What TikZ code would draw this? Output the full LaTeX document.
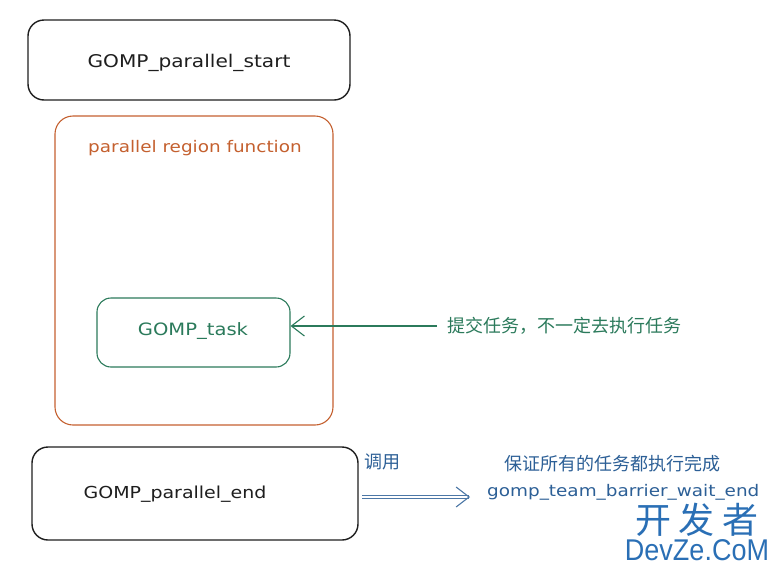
\documentclass[tikz,border=0pt]{standalone}
\usepackage{fontspec}
\setmainfont{DejaVu Sans}
\newfontfamily\hand[FakeStretch=1.15]{DejaVu Sans}
\newfontfamily\cjk{Noto Sans CJK SC}
\newfontfamily\wmfont[FakeStretch=0.9]{Liberation Sans}
\usetikzlibrary{arrows.meta}
\definecolor{ink}{HTML}{1E1E1E}
\definecolor{orng}{HTML}{C4602F}
\definecolor{grn}{HTML}{2B7A5B}
\definecolor{blu}{HTML}{2C5F96}
\definecolor{wm}{HTML}{2A6FB5}
\tikzset{
  x=1pt, y=-1pt,
  box/.style={draw=ink, line width=1.4pt, rounded corners=16pt},
  fbox/.style={draw=orng, line width=1.1pt, rounded corners=18pt},
  gbox/.style={draw=grn, line width=1.1pt, rounded corners=14pt},
  lbl/.style={inner sep=0pt},
  zh/.style={inner sep=0pt, font=\cjk\fontsize{18}{21}\selectfont},
  barb/.style={-{Straight Barb[length=13pt,width=20pt]}},
}
\begin{document}
\begin{tikzpicture}
\useasboundingbox (0,0) rectangle (780,571);
% boxes
\draw[box] (28,20) rectangle (350,100);
\node[lbl, text=ink, font=\hand\fontsize{17.5}{20}\selectfont] (start) at (189,63) {GOMP\_parallel\_start};
\draw[fbox] (55,116) rectangle (333,425);
\node[lbl, text=orng, font=\hand\fontsize{16}{19}\selectfont] (region) at (195,148) {parallel region function};
\node[gbox, minimum width=193pt, minimum height=69pt, inner sep=0pt] (task) at (193.5,332.5) {};
\node[lbl, text=grn, font=\hand\fontsize{17}{20}\selectfont] (tasklbl) at (193,331) {GOMP\_task};
\node[box, minimum width=326pt, minimum height=93pt, inner sep=0pt] (endbox) at (195,493.5) {};
\node[lbl, text=ink, font=\hand\fontsize{16.5}{19}\selectfont] (endlbl) at (175,494) {GOMP\_parallel\_end};
% green note
\node[zh, text=grn, anchor=west] (note) at (447,326) {提交任务，不一定去执行任务};
\draw[grn, line width=1.1pt, barb] ([xshift=-10pt]note.west) -- (task.east |- note.west);
% blue call
\node[zh, text=blu, anchor=west] (call) at (364,462) {调用};
\node[zh, text=blu] (ensure) at (612,464) {保证所有的任务都执行完成};
\node[lbl, text=blu, anchor=west, font=\hand\fontsize{16}{19}\selectfont] (wait) at (487,492) {gomp\_team\_barrier\_wait\_end};
\coordinate (cstart) at (362,497);
\coordinate (cend) at (470,497);
\draw[blu!85, line width=1.1pt, double distance=1.8pt, barb] (cstart) -- (cend);
% watermark
\node[inner sep=0pt, text=wm, font=\cjk\fontsize{36}{40}\selectfont] (wm1) at (697,520) {开\hspace{8pt}发\hspace{8pt}者};
\node[inner sep=0pt, text=wm, font=\wmfont\fontsize{30}{32}\selectfont] (wm2) at (697,550) {DevZe.CoM};
\end{tikzpicture}
\end{document}
